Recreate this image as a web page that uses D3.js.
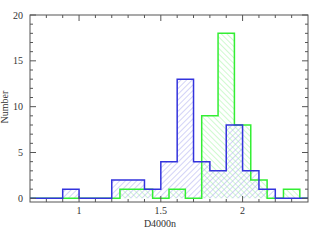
<!DOCTYPE html>
<html>
<head>
<meta charset="utf-8">
<script src="https://cdn.jsdelivr.net/npm/d3@7"></script>
<style>
  body { margin: 0; background: #fff; }
  svg text { font-family: "Liberation Serif", "DejaVu Serif", serif; fill: #333; }
</style>
</head>
<body>
<div id="chart"></div>
<script>
// bin left edges, width 0.1
const blueEdges = [0.7, 0.8, 0.9, 1.0, 1.1, 1.2, 1.3, 1.4, 1.5, 1.6, 1.7, 1.8, 1.9, 2.0, 2.1, 2.2, 2.3];
const blueCounts = [0, 0, 1, 0, 0, 2, 2, 1, 4, 13, 4, 3, 8, 3, 1, 0, 0];
const greenEdges = [0.65, 0.75, 0.85, 0.95, 1.05, 1.15, 1.25, 1.35, 1.45, 1.55, 1.65, 1.75, 1.85, 1.95, 2.05, 2.15, 2.25, 2.35];
const greenCounts = [0, 0, 0, 0, 0, 0, 1, 1, 0, 1, 0, 9, 18, 8, 2, 0, 1, 0];
const binWidth = 0.1;
const xTicks = [1, 1.5, 2];
const yTicks = [0, 5, 10, 15, 20];

const width = 312, height = 240;
const margin = {left: 30, right: 4, top: 15, bottom: 38};

const svg = d3.select('#chart').append("svg")
  .attr("width", width)
  .attr("height", height);

const x = d3.scaleLinear().domain([0.7, 2.4]).range([margin.left, width - margin.right]);
const y = d3.scaleLinear().domain([-0.4, 20]).range([height - margin.bottom, margin.top]);

const defs = svg.append("defs");
defs.append("clipPath").attr("id", "clip")
  .append("rect")
  .attr("x", x.range()[0]).attr("y", y.range()[1])
  .attr("width", x.range()[1] - x.range()[0])
  .attr("height", y.range()[0] - y.range()[1]);

function hatch(id, color, angle) {
  const p = defs.append("pattern")
    .attr("id", id)
    .attr("patternUnits", "userSpaceOnUse")
    .attr("width", 4).attr("height", 4)
    .attr("patternTransform", "rotate(" + angle + ")");
  p.append("line")
    .attr("x1", 0).attr("y1", 0).attr("x2", 0).attr("y2", 4)
    .attr("stroke", color).attr("stroke-width", 1);
}
hatch("hBlue", "#a8a8f0", 45);
hatch("hGreen", "#a0f5a0", -45);

// step points: each bin edge + closing edge
function steps(edges, counts) {
  const pts = edges.map((e, i) => [e, counts[i]]);
  pts.push([edges[edges.length - 1] + binWidth, 0]);
  return pts;
}

const line = d3.line().x(d => x(d[0])).y(d => y(d[1])).curve(d3.curveStepAfter);
const area = d3.area().x(d => x(d[0])).y0(y(0)).y1(d => y(d[1])).curve(d3.curveStepAfter);

const g = svg.append("g").attr("clip-path", "url(#clip)");

const greenPts = steps(greenEdges, greenCounts);
const bluePts = steps(blueEdges, blueCounts);

g.append("path").attr("d", area(greenPts)).attr("fill", "url(#hGreen)");
g.append("path").attr("d", area(bluePts)).attr("fill", "url(#hBlue)");
g.append("path").attr("d", line(greenPts))
  .attr("fill", "none").attr("stroke", "#33ee33").attr("stroke-width", 1.5);
g.append("path").attr("d", line(bluePts))
  .attr("fill", "none").attr("stroke", "#3333dd").attr("stroke-width", 1.5);

// frame with inward ticks on all sides
const axisColor = "#555";
svg.append("rect")
  .attr("x", x.range()[0]).attr("y", y.range()[1])
  .attr("width", x.range()[1] - x.range()[0])
  .attr("height", y.range()[0] - y.range()[1])
  .attr("fill", "none").attr("stroke", axisColor).attr("stroke-width", 1);

const xMinor = d3.range(8, 24).map(d => d / 10);
const yMinor = d3.range(0, 21);

const ticks = svg.append("g").attr("stroke", axisColor).attr("stroke-width", 1);
xMinor.forEach(v => {
  const len = xTicks.some(t => Math.abs(t - v) < 1e-6) ? 6 : 3;
  ticks.append("line").attr("x1", x(v)).attr("x2", x(v))
    .attr("y1", y.range()[0]).attr("y2", y.range()[0] - len);
  ticks.append("line").attr("x1", x(v)).attr("x2", x(v))
    .attr("y1", y.range()[1]).attr("y2", y.range()[1] + len);
});
yMinor.forEach(v => {
  const len = yTicks.includes(v) ? 6 : 3;
  ticks.append("line").attr("y1", y(v)).attr("y2", y(v))
    .attr("x1", x.range()[0]).attr("x2", x.range()[0] + len);
  ticks.append("line").attr("y1", y(v)).attr("y2", y(v))
    .attr("x1", x.range()[1]).attr("x2", x.range()[1] - len);
});

svg.selectAll(".xlab").data(xTicks).enter().append("text")
  .attr("x", d => x(d)).attr("y", 214)
  .attr("text-anchor", "middle").style("font-size", "10px")
  .text(d => d);

svg.selectAll(".ylab").data(yTicks).enter().append("text")
  .attr("x", 23).attr("y", d => y(d) + 3.5)
  .attr("text-anchor", "end").style("font-size", "10px")
  .text(d => d);

svg.append("text")
  .attr("x", 160).attr("y", 227)
  .attr("text-anchor", "middle").style("font-size", "10px")
  .text("D4000n");

svg.append("text")
  .attr("transform", "translate(8,107) rotate(-90)")
  .attr("text-anchor", "middle").style("font-size", "10px")
  .text("Number");
</script>
</body>
</html>
